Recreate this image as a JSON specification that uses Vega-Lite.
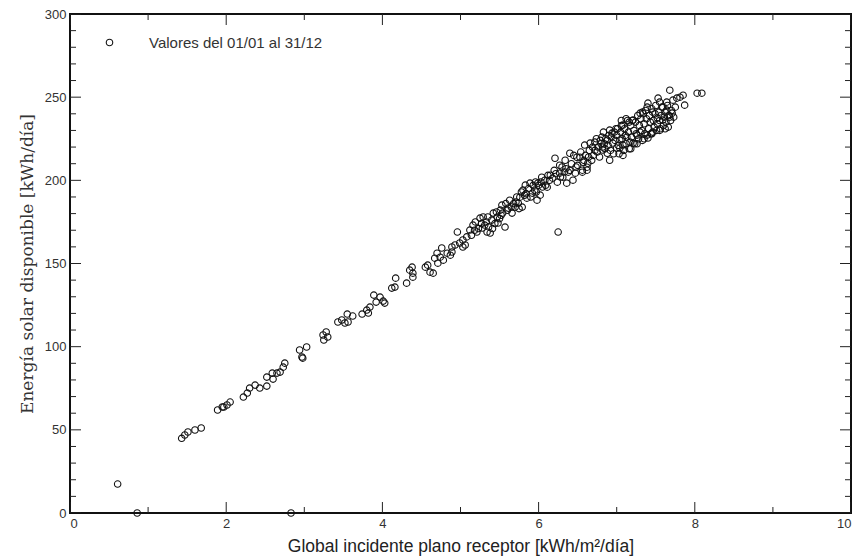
{
  "$schema": "https://vega.github.io/schema/vega-lite/v6.json",
  "width": 781,
  "height": 499,
  "autosize": "none",
  "padding": {"left": 70, "top": 14, "right": 6, "bottom": 44},
  "background": "white",
  "config": {
    "view": {"stroke": "#111", "strokeWidth": 2},
    "axis": {"grid": false, "domain": false, "labelFont": "Liberation Sans", "labelFontSize": 13, "labelColor": "#333", "tickColor": "#222", "tickWidth": 1}
  },
  "datasets": {
    "xt": [{"v":0,"k":"major"},{"v":1,"k":"minor"},{"v":2,"k":"major"},{"v":3,"k":"minor"},{"v":4,"k":"major"},{"v":5,"k":"minor"},{"v":6,"k":"major"},{"v":7,"k":"minor"},{"v":8,"k":"major"},{"v":9,"k":"minor"},{"v":10,"k":"major"}],
    "yt": [{"v":0,"k":"major"},{"v":10,"k":"minor"},{"v":20,"k":"minor"},{"v":30,"k":"minor"},{"v":40,"k":"minor"},{"v":50,"k":"major"},{"v":60,"k":"minor"},{"v":70,"k":"minor"},{"v":80,"k":"minor"},{"v":90,"k":"minor"},{"v":100,"k":"major"},{"v":110,"k":"minor"},{"v":120,"k":"minor"},{"v":130,"k":"minor"},{"v":140,"k":"minor"},{"v":150,"k":"major"},{"v":160,"k":"minor"},{"v":170,"k":"minor"},{"v":180,"k":"minor"},{"v":190,"k":"minor"},{"v":200,"k":"major"},{"v":210,"k":"minor"},{"v":220,"k":"minor"},{"v":230,"k":"minor"},{"v":240,"k":"minor"},{"v":250,"k":"major"},{"v":260,"k":"minor"},{"v":270,"k":"minor"},{"v":280,"k":"minor"},{"v":290,"k":"minor"},{"v":300,"k":"major"}],
    "obs": [
    {"x":0.61,"y":17.4},{"x":0.86,"y":0},{"x":2.83,"y":0},
    {"x":1.43,"y":44.9},{"x":1.47,"y":46.9},{"x":1.51,"y":48.7},{"x":1.60,"y":49.9},{"x":1.68,"y":51.1},
    {"x":1.89,"y":61.9},{"x":1.95,"y":63.7},{"x":1.97,"y":63.7},{"x":2.01,"y":64.9},{"x":2.05,"y":66.7},
    {"x":2.22,"y":69.7},{"x":2.27,"y":72.1},{"x":2.30,"y":75.1},{"x":2.37,"y":76.9},{"x":2.43,"y":75.1},
    {"x":2.52,"y":76.3},{"x":2.52,"y":81.7},{"x":2.59,"y":84.1},{"x":2.60,"y":80.5},{"x":2.65,"y":84.1},
    {"x":2.69,"y":84.7},{"x":2.73,"y":87.7},{"x":2.75,"y":90.1},{"x":2.94,"y":98.0},{"x":2.97,"y":93.8},
    {"x":2.98,"y":93.1},{"x":3.03,"y":99.8},{"x":3.24,"y":107.0},{"x":3.28,"y":108.8},{"x":3.30,"y":105.8},
    {"x":3.25,"y":104.0},{"x":3.43,"y":114.8},{"x":3.48,"y":116.0},{"x":3.52,"y":114.2},{"x":3.55,"y":119.6},
    {"x":3.56,"y":114.8},{"x":3.62,"y":118.4},{"x":3.74,"y":119.6},{"x":3.80,"y":122.0},{"x":3.84,"y":123.8},
    {"x":3.82,"y":120.2},{"x":3.89,"y":131.0},{"x":3.92,"y":126.8},{"x":3.97,"y":129.8},{"x":4.01,"y":127.4},
    {"x":4.03,"y":126.2},{"x":4.12,"y":135.2},{"x":4.16,"y":135.8},{"x":4.17,"y":141.2},{"x":4.31,"y":138.2},
    {"x":4.35,"y":146.0},{"x":4.38,"y":147.8},{"x":4.39,"y":141.8},{"x":4.39,"y":144.2},{"x":4.55,"y":147.8},
    {"x":4.58,"y":149.0},{"x":4.61,"y":144.8},{"x":4.65,"y":144.2},{"x":4.67,"y":153.2},{"x":4.70,"y":156.2},
    {"x":4.71,"y":150.2},{"x":4.74,"y":153.8},{"x":4.76,"y":159.3},{"x":4.78,"y":152.0},{"x":4.83,"y":156.2},
    {"x":4.87,"y":155.0},{"x":4.89,"y":159.9},{"x":4.93,"y":161.1},{"x":4.99,"y":162.3},{"x":5.03,"y":159.9},
    {"x":4.89,"y":156.9},{"x":5.06,"y":161.1},{"x":5.03,"y":164.1},{"x":4.96,"y":168.9},{"x":6.25,"y":168.9},
    {"x":5.12,"y":170.1},{"x":5.16,"y":173.1},{"x":5.21,"y":168.9},{"x":5.25,"y":177.3},{"x":5.28,"y":171.3},
    {"x":5.31,"y":173.1},{"x":5.34,"y":168.9},{"x":5.38,"y":168.3},{"x":5.40,"y":176.1},{"x":5.42,"y":180.3},
    {"x":5.47,"y":177.9},{"x":5.48,"y":174.3},{"x":5.51,"y":182.1},{"x":5.53,"y":185.1},{"x":5.54,"y":180.3},
    {"x":5.57,"y":171.9},{"x":5.61,"y":183.3},{"x":5.66,"y":180.3},{"x":5.70,"y":183.9},{"x":5.74,"y":186.3},
    {"x":5.76,"y":189.9},{"x":5.79,"y":183.9},{"x":5.80,"y":194.1},{"x":5.83,"y":197.1},{"x":5.85,"y":189.3},
    {"x":5.89,"y":198.3},{"x":5.92,"y":192.3},{"x":5.95,"y":194.1},{"x":5.98,"y":188.1},{"x":5.99,"y":198.3},
    {"x":6.02,"y":191.1},{"x":6.04,"y":201.9},{"x":6.08,"y":200.1},{"x":6.11,"y":195.9},{"x":6.15,"y":203.1},
    {"x":6.18,"y":201.3},{"x":6.24,"y":198.9},{"x":6.27,"y":204.3},{"x":6.31,"y":201.9},{"x":6.36,"y":198.3},
    {"x":6.38,"y":204.9},{"x":6.44,"y":200.1},{"x":6.47,"y":204.3},{"x":6.56,"y":204.9},{"x":6.62,"y":206.1},
    {"x":6.40,"y":216.3},{"x":6.49,"y":213.9},{"x":6.34,"y":212.1},{"x":6.27,"y":209.1},{"x":6.21,"y":213.3},
    {"x":5.14,"y":167},{"x":5.19,"y":175},{"x":5.23,"y":171},{"x":5.29,"y":178},{"x":5.33,"y":175},
    {"x":5.36,"y":172},{"x":5.44,"y":174},{"x":5.46,"y":181},{"x":5.50,"y":177},{"x":5.58,"y":186},
    {"x":5.63,"y":188},{"x":5.68,"y":186},{"x":5.72,"y":190},{"x":5.78,"y":193},{"x":5.82,"y":191},
    {"x":5.87,"y":195},{"x":5.93,"y":197},{"x":5.97,"y":193},{"x":6.00,"y":197},{"x":6.05,"y":196},
    {"x":6.12,"y":203},{"x":6.20,"y":206},{"x":6.30,"y":208},{"x":6.35,"y":207},{"x":6.42,"y":210},
    {"x":6.50,"y":209},{"x":6.45,"y":215},{"x":6.60,"y":215},{"x":6.65,"y":218},{"x":6.68,"y":212},
    {"x":5.08,"y":166},{"x":5.18,"y":170},{"x":5.27,"y":174},{"x":5.35,"y":178},{"x":5.41,"y":171},
    {"x":5.52,"y":179},{"x":5.60,"y":182},{"x":5.65,"y":184},{"x":5.71,"y":187},{"x":5.75,"y":183},
    {"x":5.84,"y":192},{"x":5.90,"y":190},{"x":5.96,"y":199},{"x":6.03,"y":199},{"x":6.09,"y":197},
    {"x":6.14,"y":200},{"x":6.22,"y":204},{"x":6.28,"y":202},{"x":6.33,"y":205},{"x":6.40,"y":206},
    {"x":6.48,"y":208},{"x":6.54,"y":217},{"x":6.58,"y":212},{"x":6.64,"y":214},{"x":6.69,"y":220},
    {"x":6.75,"y":217},{"x":6.79,"y":224},{"x":6.84,"y":222},
    {"x":6.59,"y":221.2},{"x":6.66,"y":222.4},{"x":6.72,"y":223.0},{"x":6.76,"y":220.0},{"x":6.81,"y":226.0},
    {"x":6.82,"y":218.2},{"x":6.88,"y":216.3},{"x":6.91,"y":212.1},{"x":6.94,"y":228.4},{"x":6.95,"y":222.4},
    {"x":7.00,"y":219.4},{"x":7.04,"y":224.2},{"x":7.08,"y":221.2},{"x":7.13,"y":226.0},{"x":7.17,"y":223.0},
    {"x":7.21,"y":222.4},{"x":7.26,"y":227.2},{"x":7.30,"y":229.0},{"x":7.39,"y":227.2},{"x":7.40,"y":225.4},
    {"x":7.46,"y":229.0},{"x":6.53,"y":213.9},{"x":6.57,"y":210.9},{"x":6.62,"y":207.9},{"x":6.56,"y":206.1},
    {"x":6.63,"y":210.3},
    {"x":7.68,"y":254.2},{"x":8.03,"y":252.4},{"x":8.09,"y":252.4},{"x":7.87,"y":245.2},{"x":7.81,"y":250.0},
    {"x":7.85,"y":251.2},{"x":7.77,"y":249.4},{"x":7.72,"y":248.2},{"x":7.40,"y":246.4},{"x":7.53,"y":249.4},
    {"x":7.55,"y":247.0},{"x":7.64,"y":247.0},{"x":7.59,"y":244.0},{"x":7.68,"y":238.0},{"x":7.71,"y":240.4},
    {"x":7.64,"y":242.2},{"x":6.91,"y":230.2},{"x":6.88,"y":224.2},{"x":6.82,"y":220.0},{"x":7.04,"y":219.4},
    {"x":7.08,"y":233.2},{"x":7.21,"y":236.2},{"x":7.30,"y":240.4},{"x":7.39,"y":244.0},{"x":7.46,"y":241.0},
    {"x":7.52,"y":237.4},{"x":7.59,"y":236.2},
    {"x":6.70,"y":215},{"x":6.72,"y":218},{"x":6.74,"y":225},{"x":6.78,"y":214},{"x":6.80,"y":222},
    {"x":6.83,"y":229},{"x":6.85,"y":219},{"x":6.86,"y":225},{"x":6.89,"y":221},{"x":6.90,"y":227},
    {"x":6.92,"y":218},{"x":6.93,"y":226},{"x":6.96,"y":216},{"x":6.97,"y":229},{"x":6.98,"y":224},
    {"x":7.00,"y":227},{"x":7.01,"y":231},{"x":7.02,"y":221},{"x":7.03,"y":216},{"x":7.05,"y":229},
    {"x":7.06,"y":233},{"x":7.07,"y":225},{"x":7.09,"y":218},{"x":7.10,"y":231},{"x":7.11,"y":227},
    {"x":7.12,"y":222},{"x":7.14,"y":236},{"x":7.15,"y":229},{"x":7.16,"y":219},{"x":7.18,"y":233},
    {"x":7.19,"y":226},{"x":7.20,"y":236},{"x":7.22,"y":230},{"x":7.23,"y":222},{"x":7.24,"y":235},
    {"x":7.25,"y":228},{"x":7.27,"y":239},{"x":7.28,"y":225},{"x":7.29,"y":233},{"x":7.31,"y":237},
    {"x":7.32,"y":230},{"x":7.33,"y":224},{"x":7.34,"y":240},{"x":7.35,"y":234},{"x":7.36,"y":228},
    {"x":7.37,"y":242},{"x":7.38,"y":237},{"x":7.41,"y":231},{"x":7.42,"y":239},{"x":7.43,"y":235},
    {"x":7.44,"y":228},{"x":7.45,"y":243},{"x":7.47,"y":236},{"x":7.48,"y":232},{"x":7.49,"y":240},
    {"x":7.50,"y":245},{"x":7.51,"y":230},{"x":7.52,"y":234},{"x":7.54,"y":241},{"x":7.55,"y":236},
    {"x":7.56,"y":231},{"x":7.57,"y":239},{"x":7.58,"y":244},{"x":7.60,"y":233},{"x":7.61,"y":238},
    {"x":7.62,"y":241},{"x":7.63,"y":235},{"x":7.65,"y":245},{"x":7.66,"y":232},{"x":7.67,"y":239},
    {"x":7.69,"y":236},{"x":7.70,"y":242},{"x":7.73,"y":238},{"x":7.75,"y":244},{"x":7.62,"y":231},
    {"x":7.55,"y":230},{"x":7.45,"y":228},{"x":7.35,"y":225},{"x":7.26,"y":222},{"x":7.18,"y":219},
    {"x":7.08,"y":215},{"x":7.06,"y":236},{"x":7.16,"y":235},{"x":7.33,"y":241},{"x":6.99,"y":231},
    {"x":7.12,"y":237}
    ]
  },
  "resolve": {"axis": {"x": "independent", "y": "independent"}},
  "layer": [
    {
      "data": {"name": "obs"},
      "mark": {"type": "point", "filled": false, "size": 42, "strokeWidth": 1.1, "opacity": 1},
      "encoding": {
        "x": {"field": "x", "type": "quantitative", "scale": {"domain": [0, 10], "nice": false, "zero": false},
              "axis": {"orient": "bottom", "values": [0,2,4,6,8,10], "ticks": false, "labelPadding": 4,
                       "title": "Global incidente plano receptor [kWh/m²/día]", "titleFont": "Liberation Sans",
                       "titleFontSize": 17.5, "titleFontWeight": "normal", "titleColor": "#222", "titlePadding": 7}},
        "y": {"field": "y", "type": "quantitative", "scale": {"domain": [0, 300], "nice": false},
              "axis": {"orient": "left", "values": [0,50,100,150,200,250,300], "ticks": false, "labelPadding": 4,
                       "title": "Energía solar disponible [kWh/día]", "titleFont": "DejaVu Serif",
                       "titleFontSize": 17, "titleFontWeight": "normal", "titleColor": "#333", "titlePadding": 8}},
        "color": {"datum": "Valores del 01/01 al 31/12", "type": "nominal", "scale": {"range": ["#111"]},
                  "legend": {"orient": "none", "legendX": 32, "legendY": 21, "title": null, "padding": 0, "labelLimit": 0,
                             "labelFont": "Liberation Sans", "labelFontSize": 15, "labelColor": "#333",
                             "symbolSize": 42, "symbolStrokeWidth": 1.1, "labelOffset": 32, "symbolType": "circle"}}
      }
    },
    {
      "data": {"name": "xt"},
      "mark": {"type": "tick", "orient": "vertical", "clip": true, "thickness": 1, "color": "#222", "opacity": 1},
      "encoding": {
        "x": {"field": "v", "type": "quantitative", "scale": {"domain": [0, 10], "nice": false, "zero": false}, "axis": null},
        "y": {"datum": 0, "type": "quantitative", "scale": {"domain": [0, 300], "nice": false}, "axis": null},
        "size": {"field": "k", "type": "nominal", "scale": {"domain": ["major", "minor"], "range": [22, 12]}, "legend": null}
      }
    },
    {
      "data": {"name": "xt"},
      "mark": {"type": "tick", "orient": "vertical", "clip": true, "thickness": 1, "color": "#222", "opacity": 1},
      "encoding": {
        "x": {"field": "v", "type": "quantitative", "scale": {"domain": [0, 10], "nice": false, "zero": false}, "axis": null},
        "y": {"datum": 300, "type": "quantitative", "scale": {"domain": [0, 300], "nice": false}, "axis": null},
        "size": {"field": "k", "type": "nominal", "scale": {"domain": ["major", "minor"], "range": [22, 12]}, "legend": null}
      }
    },
    {
      "data": {"name": "yt"},
      "mark": {"type": "tick", "orient": "horizontal", "clip": true, "thickness": 1, "color": "#222", "opacity": 1},
      "encoding": {
        "y": {"field": "v", "type": "quantitative", "scale": {"domain": [0, 300], "nice": false}, "axis": null},
        "x": {"datum": 0, "type": "quantitative", "scale": {"domain": [0, 10], "nice": false, "zero": false}, "axis": null},
        "size": {"field": "k", "type": "nominal", "scale": {"domain": ["major", "minor"], "range": [22, 12]}, "legend": null}
      }
    },
    {
      "data": {"name": "yt"},
      "mark": {"type": "tick", "orient": "horizontal", "clip": true, "thickness": 1, "color": "#222", "opacity": 1},
      "encoding": {
        "y": {"field": "v", "type": "quantitative", "scale": {"domain": [0, 300], "nice": false}, "axis": null},
        "x": {"datum": 10, "type": "quantitative", "scale": {"domain": [0, 10], "nice": false, "zero": false}, "axis": null},
        "size": {"field": "k", "type": "nominal", "scale": {"domain": ["major", "minor"], "range": [22, 12]}, "legend": null}
      }
    }
  ]
}
